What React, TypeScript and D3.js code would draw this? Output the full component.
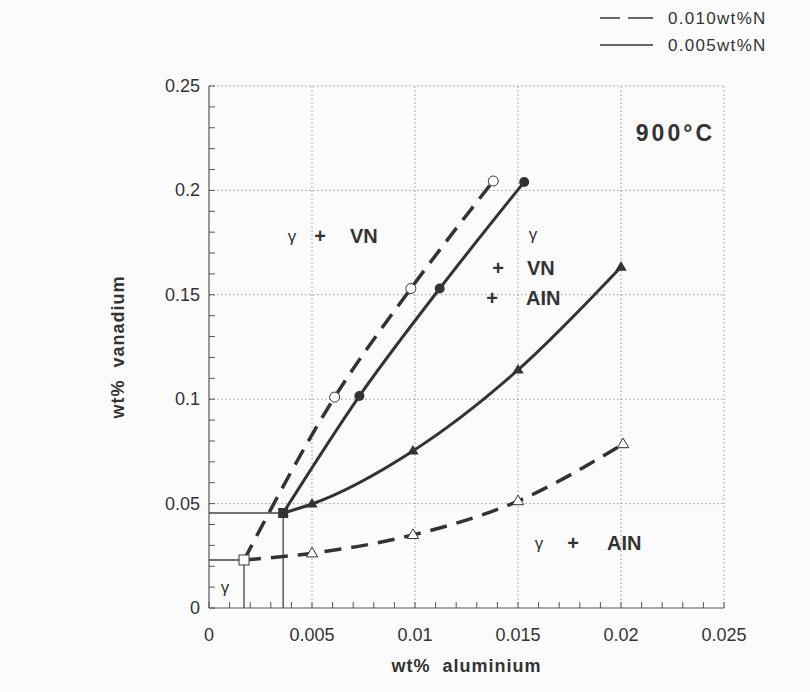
import React from "react";
import * as d3 from "d3";

// ---- data (wt% Al, wt% V) ----
const vn005: [number, number][] = [[0.0036, 0.0455], [0.0073, 0.1015], [0.0112, 0.153], [0.0153, 0.204]];
const vn010: [number, number][] = [[0.0017, 0.023], [0.0061, 0.101], [0.0098, 0.153], [0.0138, 0.2045]];
const aln005: [number, number][] = [[0.0036, 0.0455], [0.005, 0.0498], [0.0099, 0.0752], [0.015, 0.114], [0.02, 0.1633]];
const aln010: [number, number][] = [[0.0017, 0.023], [0.005, 0.0262], [0.0099, 0.035], [0.015, 0.0512], [0.0201, 0.0785]];
const triple005: [number, number] = [0.0036, 0.0455];
const triple010: [number, number] = [0.0017, 0.023];
const xTicks = [0, 0.005, 0.01, 0.015, 0.02, 0.025];
const yTicks = [0, 0.05, 0.1, 0.15, 0.2, 0.25];
const xTickLabels = ["0", "0.005", "0.01", "0.015", "0.02", "0.025"];
const yTickLabels = ["0", "0.05", "0.1", "0.15", "0.2", "0.25"];
const legendLabels = ["0.010wt%N", "0.005wt%N"];

const W = 810, H = 692;
const FONT = "'Liberation Sans', Arial, Helvetica, sans-serif";
const INK = "#333";

export default function App() {
  const x = d3.scaleLinear().domain([0, 0.025]).range([209, 724]);
  const y = d3.scaleLinear().domain([0, 0.25]).range([608, 86]);
  const line = d3.line<[number, number]>().x(d => x(d[0])).y(d => y(d[1])).curve(d3.curveMonotoneX);
  const xMinor = d3.range(0, 0.0251, 0.001);
  const yMinor = d3.range(0, 0.251, 0.01);
  const tri = (cx: number, cy: number, s: number) =>
    `M${cx},${cy - s}L${cx + s * 0.95},${cy + s * 0.6}L${cx - s * 0.95},${cy + s * 0.6}Z`;

  return (
    <svg width={W} height={H} style={{ position: "absolute", left: 0, top: 0, background: "#fbfbfb" }} fontFamily={FONT}>
      <rect width={W} height={H} fill="#fbfbfb" />
      {/* grid */}
      {xTicks.slice(1).map((t, i) => (
        <line key={"gx" + i} x1={x(t)} x2={x(t)} y1={y(0)} y2={y(0.25)} stroke="#999" strokeWidth={1} strokeDasharray="1.5,2.5" />
      ))}
      {yTicks.slice(1).map((t, i) => (
        <line key={"gy" + i} x1={x(0)} x2={x(0.025)} y1={y(t)} y2={y(t)} stroke="#999" strokeWidth={1} strokeDasharray="1.5,2.5" />
      ))}
      {/* axes */}
      <line x1={x(0)} x2={x(0.025)} y1={y(0)} y2={y(0)} stroke="#555" strokeWidth={1.2} />
      <line x1={x(0)} x2={x(0)} y1={y(0)} y2={y(0.25)} stroke="#555" strokeWidth={1.2} />
      {xMinor.map((t, i) => (
        <line key={"xm" + i} x1={x(t)} x2={x(t)} y1={y(0)} y2={y(0) - 6} stroke="#555" strokeWidth={1} />
      ))}
      {yMinor.map((t, i) => (
        <line key={"ym" + i} x1={x(0)} x2={x(0) + 6} y1={y(t)} y2={y(t)} stroke="#555" strokeWidth={1} />
      ))}
      {xTicks.map((t, i) => (
        <text key={"xl" + i} x={x(t)} y={y(0) + 33} textAnchor="middle" fontSize={18} fill={INK}>{xTickLabels[i]}</text>
      ))}
      {yTicks.map((t, i) => (
        <text key={"yl" + i} x={x(0) - 9} y={y(t) + 6} textAnchor="end" fontSize={18} fill={INK}>{yTickLabels[i]}</text>
      ))}
      <text x={(x(0) + x(0.025)) / 2} y={672} textAnchor="middle" fontSize={18} fontWeight="bold" fill={INK} letterSpacing={1}>wt%{"\u00a0\u00a0"}aluminium</text>
      <text transform={`translate(124,${(y(0) + y(0.25)) / 2}) rotate(-90)`} textAnchor="middle" fontSize={18} fontWeight="bold" fill={INK} letterSpacing={1}>wt%{"\u00a0\u00a0"}vanadium</text>

      {/* reference lines to axes */}
      <polyline points={`${x(0)},${y(triple005[1])} ${x(triple005[0])},${y(triple005[1])} ${x(triple005[0])},${y(0)}`} fill="none" stroke="#444" strokeWidth={1.3} />
      <polyline points={`${x(0)},${y(triple010[1])} ${x(triple010[0])},${y(triple010[1])} ${x(triple010[0])},${y(0)}`} fill="none" stroke="#444" strokeWidth={1.3} />

      {/* curves */}
      <path d={line(vn010) || ""} fill="none" stroke={INK} strokeWidth={3.5} strokeDasharray="17,10" />
      <path d={line(aln010) || ""} fill="none" stroke={INK} strokeWidth={3.5} strokeDasharray="17,10" />
      <path d={line(vn005) || ""} fill="none" stroke={INK} strokeWidth={3} />
      <path d={line(aln005) || ""} fill="none" stroke={INK} strokeWidth={3} />

      {/* markers */}
      {vn005.slice(1).map((d, i) => (
        <circle key={"c5" + i} cx={x(d[0])} cy={y(d[1])} r={5} fill={INK} />
      ))}
      {vn010.slice(1).map((d, i) => (
        <circle key={"c10" + i} cx={x(d[0])} cy={y(d[1])} r={5} fill="#fff" stroke={INK} strokeWidth={1} />
      ))}
      {aln005.slice(1).map((d, i) => (
        <path key={"t5" + i} d={tri(x(d[0]), y(d[1]), 6)} fill={INK} />
      ))}
      {aln010.slice(1).map((d, i) => (
        <path key={"t10" + i} d={tri(x(d[0]), y(d[1]), 6)} fill="#fff" stroke={INK} strokeWidth={1} />
      ))}
      <rect x={x(triple005[0]) - 5} y={y(triple005[1]) - 5} width={10} height={10} fill={INK} />
      <rect x={x(triple010[0]) - 5} y={y(triple010[1]) - 5} width={10} height={10} fill="#fff" stroke={INK} strokeWidth={1} />

      {/* region labels */}
      <g fill={INK}>
        <text x={292} y={242} textAnchor="middle" fontSize={17}>γ</text>
        <text x={320} y={243} textAnchor="middle" fontSize={20} fontWeight="bold">+</text>
        <text x={350} y={243} fontSize={20} fontWeight="bold">VN</text>
        <text x={533} y={240} textAnchor="middle" fontSize={17}>γ</text>
        <text x={498} y={275} textAnchor="middle" fontSize={20} fontWeight="bold">+</text>
        <text x={527} y={275} fontSize={20} fontWeight="bold">VN</text>
        <text x={492} y={305} textAnchor="middle" fontSize={20} fontWeight="bold">+</text>
        <text x={526} y={305} fontSize={20} fontWeight="bold">AIN</text>
        <text x={539} y={549} textAnchor="middle" fontSize={17}>γ</text>
        <text x={573} y={550} textAnchor="middle" fontSize={20} fontWeight="bold">+</text>
        <text x={607} y={550} fontSize={20} fontWeight="bold">AIN</text>
        <text x={225} y={593} textAnchor="middle" fontSize={17}>γ</text>
        <text x={715} y={141} textAnchor="end" fontSize={23} fontWeight="bold" letterSpacing={3}>900°C</text>
      </g>

      {/* legend */}
      <line x1={600} x2={620} y1={18} y2={18} stroke={INK} strokeWidth={1.5} />
      <line x1={628} x2={653} y1={18} y2={18} stroke={INK} strokeWidth={1.5} />
      <line x1={600} x2={653} y1={45} y2={45} stroke={INK} strokeWidth={1.5} />
      <text x={668} y={24} fontSize={17} fill={INK} letterSpacing={1.3}>{legendLabels[0]}</text>
      <text x={668} y={51} fontSize={17} fill={INK} letterSpacing={1.3}>{legendLabels[1]}</text>
    </svg>
  );
}
